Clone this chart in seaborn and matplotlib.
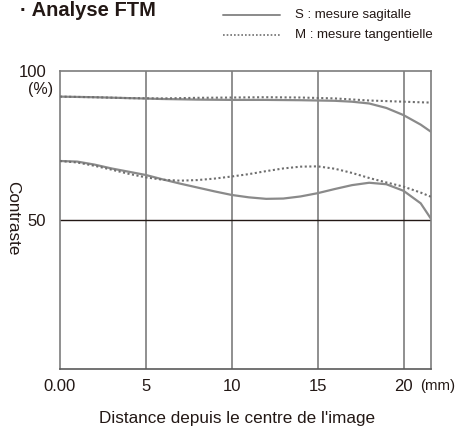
import matplotlib
matplotlib.use('Agg')
import matplotlib.pyplot as plt
import pandas as pd
import seaborn as sns

# MTF data (distance in mm, contrast in %)
dist_low = [0, 1, 2, 3, 4, 5, 6, 7, 8, 9, 10, 11, 12, 13, 14, 15, 16, 17, 18, 19, 20, 21, 21.6]
s_low = [69.8, 69.6, 68.6, 67.3, 66.2, 65.1, 63.6, 62.2, 60.9, 59.6, 58.4, 57.6, 57.1, 57.2,
         57.9, 59.0, 60.4, 61.7, 62.5, 62.0, 59.8, 55.6, 50.4]
m_low = [69.8, 69.3, 68.2, 66.9, 65.5, 64.3, 63.5, 63.2, 63.4, 63.9, 64.6, 65.4, 66.4, 67.3,
         67.9, 68.0, 67.2, 65.8, 64.1, 62.6, 61.2, 59.2, 57.8]

dist_s_high = [0, 2, 4, 6, 8, 10, 12, 14, 16, 17, 18, 19, 20, 21, 21.6]
s_high = [91.4, 91.2, 90.9, 90.6, 90.4, 90.3, 90.3, 90.2, 90.0, 89.7, 89.1, 87.6, 85.2, 82.0, 79.6]
dist_m_high = [0, 2, 4, 6, 8, 10, 12, 14, 16, 18, 20, 21, 21.6]
m_high = [91.4, 91.2, 90.9, 90.8, 91.0, 91.1, 91.2, 91.1, 90.8, 90.1, 89.7, 89.5, 89.4]

x_ticks = [0, 5, 10, 15, 20]
x_labels = ['0.00', '5', '10', '15', '20']

TXT = '#231815'
CURVE = '#8a8a8a'
GRID = '#7d7d7d'

sns.set_style('white')
plt.rcParams['font.family'] = ['Liberation Sans', 'DejaVu Sans']

fig = plt.figure(figsize=(4.56, 4.34), dpi=100)
ax = fig.add_axes([60 / 456, 1 - 369 / 434, 371 / 456, 298 / 434])

# grid lines
for xv in x_ticks[1:]:
    ax.axvline(xv, color=GRID, lw=1.2, zorder=1)
ax.axhline(50, color=TXT, lw=1.0, zorder=1)

series = [
    (dist_low, s_low, 'S'), (dist_low, m_low, 'M'),
    (dist_s_high, s_high, 'S'), (dist_m_high, m_high, 'M'),
]
for xs, ys, kind in series:
    d = pd.DataFrame({'dist': xs, 'contrast': ys})
    if kind == 'S':
        sns.lineplot(data=d, x='dist', y='contrast', ax=ax, color=CURVE, lw=1.6, zorder=3)
    else:
        sns.lineplot(data=d, x='dist', y='contrast', ax=ax, color='#6f6f6f', lw=1.5,
                     linestyle=(0, (1, 1.2)), zorder=4)

ax.set_xlim(0, 21.6)
ax.set_ylim(0, 100)
for s in ['left', 'top', 'right']:
    ax.spines[s].set_color(GRID)
    ax.spines[s].set_linewidth(1.2)
ax.spines['bottom'].set_color('#5a5a5a')
ax.spines['bottom'].set_linewidth(1.2)

ax.set_xticks(x_ticks)
ax.set_xticklabels(x_labels)
ax.set_yticks([50, 100])
ax.set_yticklabels(['50', '100'])
ax.tick_params(axis='x', length=0, pad=7, labelsize=12, labelcolor=TXT)
ax.tick_params(axis='y', length=3, width=1, color=TXT, pad=7, labelsize=12, labelcolor=TXT)
ax.set_xlabel('')
ax.set_ylabel('')

ax.text(-0.4, 93.8, '(%)', ha='right', va='center', fontsize=11.5, color=TXT)
ax.text(20.95, -5.8, '(mm)', ha='left', va='center', fontsize=10.8, color=TXT,
        transform=ax.transData, clip_on=False)

fig.text(237 / 456, 1 - 418 / 434, "Distance depuis le centre de l'image",
         ha='center', va='center', fontsize=12.3, color=TXT)
fig.text(13 / 456, 1 - 218 / 434, 'Contraste', ha='center', va='center',
         rotation=270, fontsize=12.3, color=TXT)

# title at the very top
fig.text(20 / 456, 1 - 15.5 / 434, '· Analyse FTM', ha='left', va='baseline',
         fontsize=14.5, fontweight='bold', color=TXT)

# legend drawn by hand
lx0, lx1 = 223 / 456, 280 / 456
fig.add_artist(plt.Line2D([lx0, lx1], [1 - 15 / 434] * 2, color=CURVE, lw=1.4,
                          transform=fig.transFigure))
fig.add_artist(plt.Line2D([lx0, lx1], [1 - 35 / 434] * 2, color='#6f6f6f', lw=1.2,
                          linestyle=(0, (1, 1.2)), transform=fig.transFigure))
fig.text(295 / 456, 1 - 15 / 434, 'S : mesure sagitalle', ha='left', va='center',
         fontsize=9.5, color=TXT)
fig.text(295 / 456, 1 - 35 / 434, 'M : mesure tangentielle', ha='left', va='center',
         fontsize=9.5, color=TXT)

fig.savefig('out.png', dpi=100)
